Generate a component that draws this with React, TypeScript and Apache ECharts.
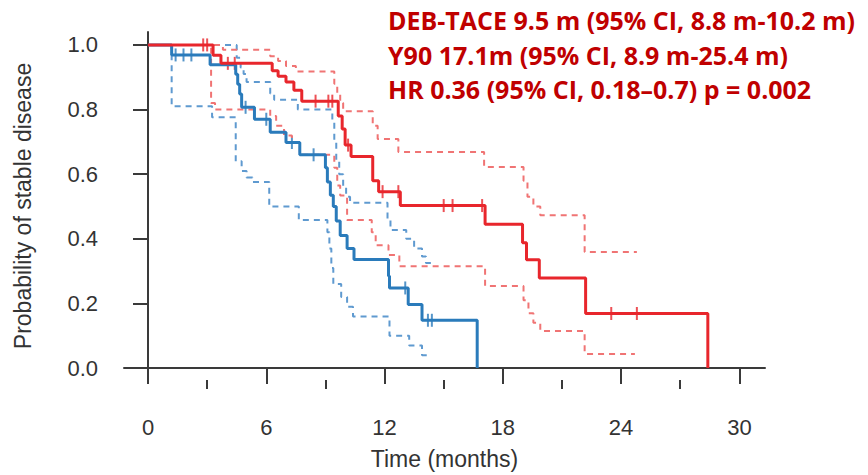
import React, { useEffect, useRef } from "react";
import * as echarts from "echarts";

// ---- Data ----
// Y90 (red) Kaplan-Meier estimate
const redTime = [0, 3.3, 3.7, 6.3, 6.6, 7.0, 7.4, 7.8, 9.65, 9.85, 10.0, 10.3, 11.4, 11.7, 12.8, 17.1, 19.0, 19.2, 19.85, 22.2, 28.4];
const redSurv = [1.0, 0.968, 0.943, 0.92, 0.903, 0.885, 0.86, 0.826, 0.78, 0.74, 0.69, 0.655, 0.58, 0.546, 0.503, 0.445, 0.388, 0.335, 0.279, 0.169, 0];
const redCensor = [2.8, 3.0, 4.05, 4.4, 8.5, 9.15, 9.35, 10.15, 11.9, 12.7, 15.0, 15.45, 16.95, 23.5, 24.8];
const redHiTime = [0, 3.8, 6.2, 6.6, 7.0, 7.5, 9.45, 9.6, 9.75, 9.9, 11.4, 11.65, 12.7, 17.05, 19.05, 19.25, 19.55, 19.9, 22.15, 24.8];
const redHiSurv = [1.0, 0.985, 0.965, 0.95, 0.935, 0.918, 0.88, 0.85, 0.82, 0.795, 0.75, 0.709, 0.669, 0.622, 0.58, 0.53, 0.5, 0.473, 0.359, 0.359];
const redLoTime = [0, 3.2, 3.4, 6.2, 6.5, 6.9, 7.3, 7.7, 9.45, 9.6, 9.75, 10.1, 11.35, 11.55, 12.2, 12.75, 17.1, 19.05, 19.3, 19.55, 19.9, 22.15, 24.7];
const redLoSurv = [1.0, 0.82, 0.8, 0.78, 0.75, 0.72, 0.7, 0.66, 0.62, 0.565, 0.534, 0.458, 0.42, 0.38, 0.35, 0.315, 0.254, 0.21, 0.17, 0.14, 0.115, 0.044, 0.044];

// DEB-TACE (blue) Kaplan-Meier estimate
const blueTime = [0, 1.2, 3.15, 4.45, 4.55, 4.65, 4.75, 5.4, 6.2, 7.0, 7.7, 9.0, 9.1, 9.25, 9.4, 9.55, 9.75, 10.1, 10.45, 12.2, 12.25, 13.2, 13.9, 16.7];
const blueSurv = [1.0, 0.969, 0.939, 0.909, 0.878, 0.848, 0.807, 0.77, 0.73, 0.698, 0.66, 0.62, 0.576, 0.535, 0.5, 0.455, 0.41, 0.37, 0.336, 0.285, 0.248, 0.197, 0.148, 0];
const blueCensor = [1.4, 1.8, 2.2, 4.95, 6.0, 7.3, 8.4, 13.05, 14.2, 14.4];
const blueHiTime = [0, 4.5, 4.7, 4.85, 5.0, 6.2, 6.4, 7.6, 9.35, 9.45, 9.55, 9.7, 9.9, 10.05, 10.25, 12.15, 12.3, 13.1, 13.5, 13.9, 14.1, 14.4];
const blueHiSurv = [1.0, 0.96, 0.93, 0.91, 0.885, 0.85, 0.83, 0.8, 0.76, 0.7, 0.64, 0.6, 0.56, 0.53, 0.512, 0.46, 0.427, 0.4, 0.37, 0.345, 0.325, 0.325];
const blueLoTime = [0, 1.2, 3.25, 4.45, 4.75, 5.0, 5.3, 6.15, 7.65, 9.1, 9.2, 9.3, 9.4, 9.8, 10.1, 10.4, 12.25, 13.25, 13.9, 14.2];
const blueLoSurv = [1.0, 0.81, 0.776, 0.64, 0.61, 0.59, 0.576, 0.5, 0.458, 0.42, 0.37, 0.31, 0.26, 0.22, 0.19, 0.16, 0.1, 0.07, 0.04, 0.04];

// Axes
const xMajorTicks = [0, 6, 12, 18, 24, 30];
const xMinorTicks = [3, 9, 15, 21, 27];
const yTicks = [0, 0.2, 0.4, 0.6, 0.8, 1.0];

const titleLines = [
  "DEB-TACE 9.5 m (95% CI, 8.8 m-10.2 m)",
  "Y90 17.1m (95% CI, 8.9 m-25.4 m)",
  "HR 0.36 (95% CI, 0.18\u20130.7) p = 0.002",
];
const titleCenters = [20, 54.5, 88.5];

const RED = "#e8262c";
const BLUE = "#2a7bbb";
const RED_CI = "#f07474";
const BLUE_CI = "#5f9ad0";
const AXIS = "#3a3a3a";
const FONT = "Liberation Sans, Arial, sans-serif";

const zip = (t: number[], s: number[]) => t.map((v, i) => [v, s[i]]);
const stepAt = (t: number[], s: number[], x: number) => {
  let v = s[0];
  for (let i = 0; i < t.length; i++) if (t[i] <= x) v = s[i];
  return v;
};

function stepSeries(name: string, t: number[], s: number[], color: string, width: number, dashed: boolean) {
  return {
    name,
    type: "line",
    step: "end",
    data: zip(t, s),
    symbol: "none",
    showSymbol: false,
    silent: true,
    lineStyle: { color, width, type: dashed ? [6, 5] : "solid" },
  };
}

function censorSeries(name: string, c: number[], t: number[], s: number[], color: string) {
  return {
    name,
    type: "scatter",
    data: c.map((x) => [x, stepAt(t, s, x)]),
    symbol: "rect",
    symbolSize: [2, 13],
    silent: true,
    itemStyle: { color },
  };
}

export default function App() {
  const ref = useRef<HTMLDivElement>(null);
  useEffect(() => {
    document.body.style.margin = "0";
    const chart = echarts.init(ref.current!, null, { renderer: "svg" });
    const option: any = {
      animation: false,
      grid: { left: 124, right: 103, top: 32, bottom: 92 },
      xAxis: [
        {
          type: "value",
          position: "bottom",
          min: -1.218,
          max: 31.3,
          splitLine: { show: false },
          axisLine: { show: true, lineStyle: { color: AXIS, width: 2 } },
          axisTick: { show: true, customValues: xMajorTicks, length: 16, lineStyle: { color: AXIS, width: 2 } },
          axisLabel: {
            show: true,
            customValues: xMajorTicks,
            margin: 36,
            color: "#333",
            fontSize: 22,
            fontFamily: FONT,
          },
          name: "Time (months)",
          nameLocation: "middle",
          nameGap: 67,
          nameTextStyle: { color: "#333", fontSize: 23, fontFamily: FONT },
        },
        {
          type: "value",
          position: "bottom",
          min: -1.218,
          max: 31.3,
          splitLine: { show: false },
          axisLine: { show: false },
          axisTick: { show: true, customValues: xMinorTicks, length: 9, lineStyle: { color: AXIS, width: 2 } },
          axisLabel: { show: false },
        },
      ],
      yAxis: {
        type: "value",
        min: -0.0368,
        max: 1.04,
        splitLine: { show: false },
        axisLine: { show: true, lineStyle: { color: AXIS, width: 2 } },
        axisTick: { show: true, customValues: yTicks, length: 15, lineStyle: { color: AXIS, width: 2 } },
        axisLabel: {
          show: true,
          customValues: yTicks,
          margin: 26,
          color: "#333",
          fontSize: 22,
          fontFamily: FONT,
          formatter: (v: number) => v.toFixed(1),
        },
        name: "Probability of stable disease",
        nameLocation: "middle",
        nameRotate: 90,
        nameGap: 90,
        nameTextStyle: { color: "#333", fontSize: 23, fontFamily: FONT },
      },
      graphic: titleLines.map((txt, i) => ({
        type: "text",
        x: 388,
        y: titleCenters[i],
        silent: true,
        style: {
          text: txt,
          fill: "#c00000",
          font: "bold 25px 'Open Sans', sans-serif",
          textVerticalAlign: "middle",
          verticalAlign: "middle",
        },
      })),
      series: [
        stepSeries("DEB-TACE upper CI", blueHiTime, blueHiSurv, BLUE_CI, 2, true),
        stepSeries("DEB-TACE lower CI", blueLoTime, blueLoSurv, BLUE_CI, 2, true),
        stepSeries("Y90 upper CI", redHiTime, redHiSurv, RED_CI, 2, true),
        stepSeries("Y90 lower CI", redLoTime, redLoSurv, RED_CI, 2, true),
        stepSeries("DEB-TACE", blueTime, blueSurv, BLUE, 3, false),
        stepSeries("Y90", redTime, redSurv, RED, 3, false),
        censorSeries("DEB-TACE censored", blueCensor, blueTime, blueSurv, BLUE),
        censorSeries("Y90 censored", redCensor, redTime, redSurv, RED),
      ],
    };
    chart.setOption(option);
    return () => chart.dispose();
  }, []);
  return <div ref={ref} style={{ width: 868, height: 475 }} />;
}
